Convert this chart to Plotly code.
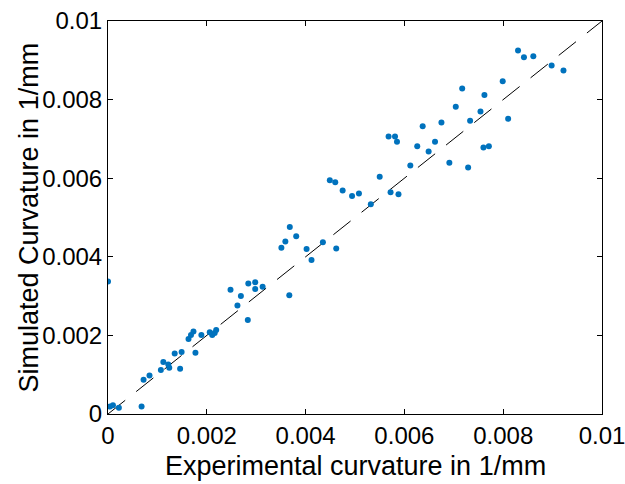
import plotly.graph_objects as go

# Experimental curvature (1/mm) in units of 1e-3
exp_vals = [0.0, 0.04, 0.10, 0.22, 0.68, 0.72, 0.84, 1.07, 1.12, 1.22, 1.24, 1.35, 1.46, 1.49,
            1.63, 1.68, 1.73, 1.77, 1.89, 2.06, 2.11, 2.16, 2.19, 2.48, 2.62, 2.69, 2.83, 2.84,
            2.98, 2.98, 3.13, 3.51, 3.59, 3.67, 3.68, 3.81, 4.02, 4.12, 4.35, 4.62, 4.49, 4.60,
            4.75, 4.94, 5.08, 5.32, 5.50, 5.68, 5.81, 5.85, 5.72, 5.88, 6.12, 6.26, 6.37, 6.49,
            6.62, 6.75, 6.91, 7.04, 7.17, 7.29, 7.33, 7.54, 7.62, 7.60, 7.71, 7.99, 8.10, 8.30,
            8.42, 8.61, 8.98, 9.22]
# Simulated curvature (1/mm) in units of 1e-3
sim_vals = [3.37, 0.19, 0.22, 0.16, 0.19, 0.87, 0.98, 1.12, 1.32, 1.26, 1.18, 1.54, 1.15, 1.58,
            1.91, 2.01, 2.10, 1.56, 2.01, 2.08, 2.01, 2.06, 2.14, 3.16, 2.76, 3.00, 2.39, 3.32,
            3.35, 3.18, 3.24, 4.23, 4.39, 3.02, 4.76, 4.52, 4.20, 3.92, 4.37, 4.21, 5.95, 5.90,
            5.69, 5.55, 5.61, 5.34, 6.04, 7.06, 7.06, 6.93, 5.64, 5.59, 6.32, 6.81, 7.32, 6.68,
            6.93, 7.42, 6.39, 7.82, 8.28, 6.27, 7.46, 7.70, 8.12, 6.78, 6.81, 8.47, 7.51, 9.25,
            9.08, 9.10, 8.87, 8.74]

x = [v * 1e-3 for v in exp_vals]
y = [v * 1e-3 for v in sim_vals]

ref_line = [0.0, 0.01]
tick_vals = [0, 0.002, 0.004, 0.006, 0.008, 0.01]
tick_text = ["0", "0.002", "0.004", "0.006", "0.008", "0.01"]
x_title = "Experimental curvature in 1/mm"
y_title = "Simulated Curvature in 1/mm"

fig = go.Figure()
fig.add_trace(go.Scatter(x=ref_line, y=ref_line, mode="lines",
                         line=dict(color="black", width=1, dash="22px,14px"),
                         showlegend=False, hoverinfo="skip"))
fig.add_trace(go.Scatter(x=x, y=y, mode="markers",
                         marker=dict(color="#0072BD", size=6),
                         showlegend=False))

font_family = "Liberation Sans, Arial, Helvetica, sans-serif"
axis_common = dict(
    range=[0, 0.01], tickvals=tick_vals, ticktext=tick_text,
    showgrid=False, zeroline=False, showline=True, linecolor="black", linewidth=1,
    mirror="ticks", ticks="inside", ticklen=5, tickwidth=1, tickcolor="black",
    tickfont=dict(family=font_family, size=24, color="black"),
    automargin=False, ticklabeloverflow="allow",
)

fig.update_layout(
    width=625, height=484,
    margin=dict(l=108, r=23, t=21, b=70, autoexpand=False),
    paper_bgcolor="white", plot_bgcolor="white",
    xaxis=dict(**axis_common),
    yaxis=dict(**axis_common),
    annotations=[
        dict(text=x_title, xref="paper", yref="paper", x=0.5, y=0, yshift=-52,
             xanchor="center", yanchor="middle", showarrow=False,
             font=dict(family=font_family, size=27, color="black")),
        dict(text=y_title, xref="paper", yref="paper", x=0, y=0.5, xshift=-80,
             xanchor="center", yanchor="middle", textangle=-90, showarrow=False,
             font=dict(family=font_family, size=27, color="black")),
    ],
)

fig.write_html("out.html")
